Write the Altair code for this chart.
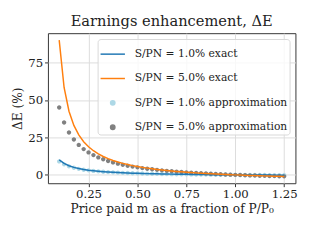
import altair as alt
import pandas as pd

# price paid m as fraction of P/P0
m_vals = [0.1, 0.125, 0.15, 0.175, 0.2, 0.225, 0.25, 0.275, 0.3, 0.325, 0.35, 0.375,
          0.4, 0.425, 0.45, 0.475, 0.5, 0.525, 0.55, 0.575, 0.6, 0.625, 0.65, 0.675,
          0.7, 0.725, 0.75, 0.775, 0.8, 0.825, 0.85, 0.875, 0.9, 0.925, 0.95, 0.975,
          1.0, 1.025, 1.05, 1.075, 1.1, 1.125, 1.15, 1.175, 1.2, 1.225, 1.25]

exact_1 = [10.0, 7.61, 6.07, 5.0, 4.21, 3.60, 3.13, 2.74, 2.41, 2.14, 1.91, 1.71,
           1.54, 1.39, 1.25, 1.13, 1.02, 0.92, 0.83, 0.75, 0.68, 0.61, 0.55, 0.49,
           0.43, 0.38, 0.34, 0.29, 0.25, 0.21, 0.18, 0.14, 0.11, 0.08, 0.05, 0.03,
           0.0, -0.02, -0.05, -0.07, -0.09, -0.11, -0.13, -0.15, -0.17, -0.19, -0.20]

exact_5 = [90.0, 58.33, 42.5, 33.0, 26.67, 22.14, 18.75, 16.11, 14.0, 12.27, 10.83, 9.62,
           8.57, 7.67, 6.88, 6.18, 5.56, 5.0, 4.5, 4.05, 3.64, 3.26, 2.92, 2.6,
           2.31, 2.04, 1.79, 1.55, 1.33, 1.13, 0.94, 0.76, 0.59, 0.43, 0.28, 0.14,
           0.0, -0.13, -0.25, -0.37, -0.48, -0.58, -0.68, -0.78, -0.87, -0.96, -1.04]

approx_1 = [9.0, 7.0, 5.67, 4.71, 4.0, 3.44, 3.0, 2.64, 2.33, 2.08, 1.86, 1.67,
            1.5, 1.35, 1.22, 1.11, 1.0, 0.9, 0.82, 0.74, 0.67, 0.6, 0.54, 0.48,
            0.43, 0.38, 0.33, 0.29, 0.25, 0.21, 0.18, 0.14, 0.11, 0.08, 0.05, 0.03,
            0.0, -0.02, -0.05, -0.07, -0.09, -0.11, -0.13, -0.15, -0.17, -0.18, -0.2]

approx_5 = [45.0, 35.0, 28.33, 23.57, 20.0, 17.22, 15.0, 13.18, 11.67, 10.38, 9.29, 8.33,
            7.5, 6.76, 6.11, 5.53, 5.0, 4.52, 4.09, 3.70, 3.33, 3.0, 2.69, 2.41,
            2.14, 1.90, 1.67, 1.45, 1.25, 1.06, 0.88, 0.71, 0.56, 0.41, 0.26, 0.13,
            0.0, -0.12, -0.24, -0.35, -0.45, -0.56, -0.65, -0.74, -0.83, -0.92, -1.0]

series_names = ["S/PN = 1.0% exact", "S/PN = 5.0% exact",
                "S/PN = 1.0% approximation", "S/PN = 5.0% approximation"]
series_colors = ["#1f77b4", "#ff7f0e", "#add8e6", "#808080"]
small_circle = "M -0.18 0 A 0.18 0.18 0 1 0 0.18 0 A 0.18 0.18 0 1 0 -0.18 0 Z"
series_shapes = ["stroke", "stroke", small_circle, small_circle]

FONT = "DejaVu Serif"

rows = []
for name, vals in zip(series_names, [exact_1, exact_5, approx_1, approx_5]):
    for m, v in zip(m_vals, vals):
        rows.append({"m": m, "dE": v, "series": name})
df = pd.DataFrame(rows)

xenc = alt.X("m:Q", scale=alt.Scale(domain=[0.0425, 1.3075], nice=False, zero=False),
             axis=alt.Axis(values=[0.25, 0.5, 0.75, 1.0, 1.25], format=".2f",
                           title="Price paid m as a fraction of P/P₀", titlePadding=4))
yenc = alt.Y("dE:Q", scale=alt.Scale(domain=[-5.6, 94.6], nice=False, zero=False),
             axis=alt.Axis(values=[0, 25, 50, 75], title="ΔE (%)", titlePadding=3))

color = alt.Color("series:N", scale=alt.Scale(domain=series_names, range=series_colors),
                  legend=alt.Legend(title=None, orient="top-right", offset=6,
                                    padding=2, rowPadding=6, labelFontSize=11,
                                    labelFont=FONT, labelColor="#222",
                                    symbolSize=625, symbolStrokeWidth=1.5,
                                    labelOffset=9,
                                    fillColor="rgba(255,255,255,0.8)", strokeColor="#d8d8d8",
                                    cornerRadius=3, labelLimit=300,
                                    symbolOpacity=1))
shape = alt.Shape("series:N", scale=alt.Scale(domain=series_names, range=series_shapes))

points = alt.Chart(df).transform_filter(
    alt.FieldOneOfPredicate(field="series", oneOf=series_names[2:])
).mark_point(filled=True, size=625, opacity=1, strokeWidth=0).encode(
    x=xenc, y=yenc, color=color, shape=shape)

lines = alt.Chart(df).transform_filter(
    alt.FieldOneOfPredicate(field="series", oneOf=series_names[:2])
).mark_line(strokeWidth=1.5).encode(x=xenc, y=yenc, color=color, detail="series:N")

chart = alt.layer(points, lines).properties(
    width=254, height=154,
    title=alt.TitleParams("Earnings enhancement, ΔE", fontSize=15, fontWeight="normal",
                          font=FONT, color="#222", offset=4, anchor="middle"),
    autosize=alt.AutoSizeParams(type="none"),
    padding={"left": 41, "top": 23, "right": 17, "bottom": 40},
).configure(font=FONT).configure_axis(
    labelFont=FONT, titleFont=FONT,
    labelFontSize=12, titleFontSize=12.5, titleFontWeight="normal",
    gridColor="#dcdcdc", gridWidth=1, domain=False, tickColor="#333",
    tickSize=3.5, labelColor="#222", titleColor="#222", labelPadding=2,
).configure_view(stroke="#333", strokeWidth=1)

chart.save("out.html", embed_options={"renderer": "svg", "actions": False})
